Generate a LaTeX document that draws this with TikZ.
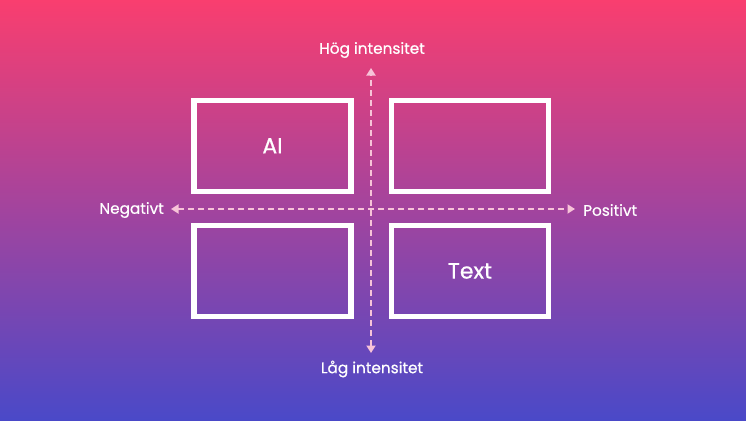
\documentclass[tikz,border=0pt]{standalone}
\usepackage{fontspec}
\setmainfont{Poppins}[FakeBold=0.6]
\usetikzlibrary{arrows.meta}
\definecolor{topc}{HTML}{F93E6F}
\definecolor{midc}{HTML}{A2449E}
\definecolor{botc}{HTML}{4A49C8}
\definecolor{axisc}{HTML}{F7C3D8}
\tikzset{
  quad/.style={draw=white, line width=5.5pt, minimum width=157pt, minimum height=91pt, inner sep=0pt, text=white, font=\fontsize{22}{26}\selectfont},
  axisline/.style={axisc, line width=2.2pt, dash pattern=on 6pt off 4pt, {Triangle[length=7.5pt,width=9pt]}-{Triangle[length=7.5pt,width=9pt]}},
  lbl/.style={text=white, font=\fontsize{15.3}{18}\selectfont, inner sep=0pt}
}
\begin{document}
\begin{tikzpicture}[x=1pt,y=-1pt]
\shade[top color=topc, bottom color=botc, middle color=midc] (0,0) rectangle (746,420);
\useasboundingbox (0,0) rectangle (746,420);
\node[quad] (q1) at (272.5,145.75) {AI};
\node[quad] (q2) at (470,145.75) {};
\node[quad] (q3) at (272.5,271) {};
\node[quad] (q4) at (470,271) {Text};
\coordinate (top) at (371,68);
\coordinate (bot) at (371,353);
\coordinate (lft) at (171,209);
\coordinate (rgt) at (575,209);
\draw[axisline] (bot) -- (top);
\draw[axisline] (lft) -- (rgt);
\node[lbl] (hog) at (372,50) {Hög intensitet};
\node[lbl] (lag) at (372,369) {Låg intensitet};
\node[lbl, anchor=east] (neg) at (164,210) {Negativt};
\node[lbl, anchor=west] (pos) at (583,210) {Positivt};
\end{tikzpicture}
\end{document}
